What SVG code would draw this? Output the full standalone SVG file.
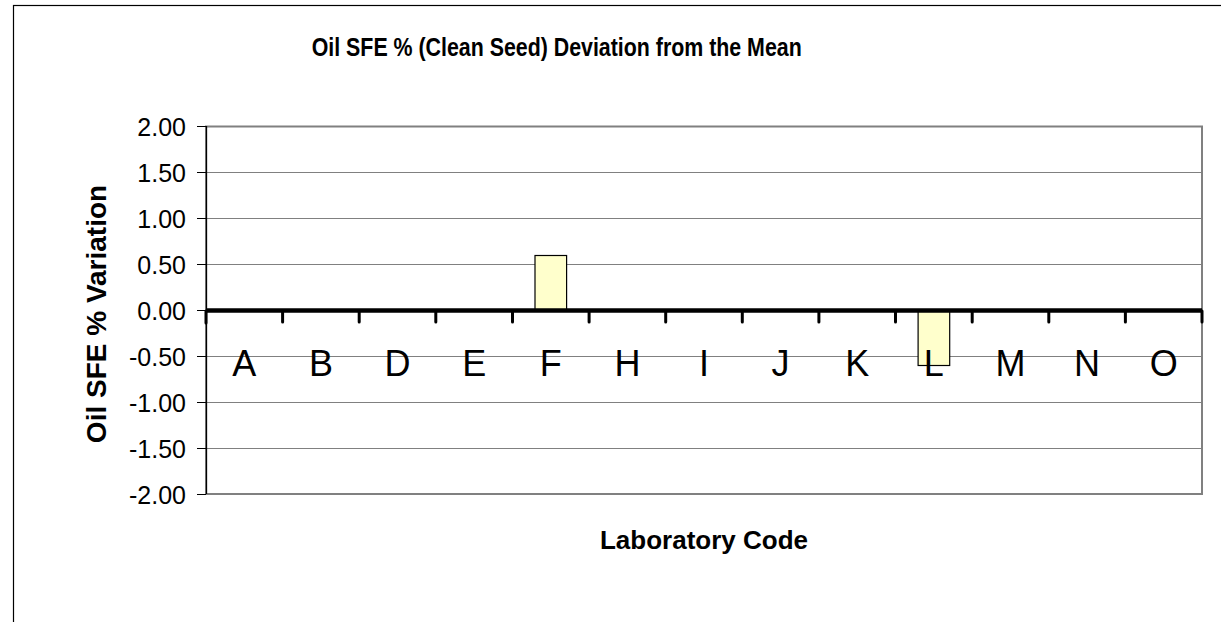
<svg xmlns="http://www.w3.org/2000/svg" width="1221" height="622" viewBox="0 0 1221 622">
<style>
.grid{stroke:#808080;stroke-width:1;fill:none}
.plot{stroke:#808080;stroke-width:2;fill:none}
.ytick{stroke:#000;stroke-width:1}
.yl{font-family:"Liberation Sans",Arial,sans-serif;font-size:25px;text-anchor:end;fill:#000}
.cl{font-family:"Liberation Sans",Arial,sans-serif;font-size:36px;text-anchor:middle;fill:#000}
.ttl{font-family:"Liberation Sans",Arial,sans-serif;font-weight:bold;fill:#000;text-anchor:middle}
.bar{fill:#FFFFCC;stroke:#000;stroke-width:1.2}
.xt{stroke:#000;stroke-width:3;stroke-linecap:round}
</style>
<rect width="1221" height="622" fill="#fff"/>
<rect x="13.5" y="5.5" width="1300" height="700" fill="none" stroke="#000" stroke-width="1.2"/>
<g id="title"><text class="ttl" x="556.7" y="56" font-size="25" textLength="490" lengthAdjust="spacingAndGlyphs">Oil SFE % (Clean Seed) Deviation from the Mean</text></g>
<g id="gridlines">
<line class="grid" x1="206" y1="172.5" x2="1202" y2="172.5"/>
<line class="grid" x1="206" y1="218.5" x2="1202" y2="218.5"/>
<line class="grid" x1="206" y1="264.5" x2="1202" y2="264.5"/>
<line class="grid" x1="206" y1="356.5" x2="1202" y2="356.5"/>
<line class="grid" x1="206" y1="402.5" x2="1202" y2="402.5"/>
<line class="grid" x1="206" y1="448.5" x2="1202" y2="448.5"/>
</g>
<g id="plot-area"><rect class="plot" x="206" y="126.5" width="996" height="367.5"/></g>
<g id="bars">
<rect id="bar-F" class="bar" x="535" y="255.5" width="31.6" height="55"/>
<rect id="bar-L" class="bar" x="918.1" y="310.5" width="31.6" height="55"/>
</g>
<g id="y-axis">
<line x1="206.5" y1="126" x2="206.5" y2="494" stroke="#000" stroke-width="1.3"/>
<line class="ytick" x1="197" y1="126.5" x2="206" y2="126.5"/>
<line class="ytick" x1="197" y1="172.5" x2="206" y2="172.5"/>
<line class="ytick" x1="197" y1="218.5" x2="206" y2="218.5"/>
<line class="ytick" x1="197" y1="264.5" x2="206" y2="264.5"/>
<line class="ytick" x1="197" y1="310.5" x2="206" y2="310.5"/>
<line class="ytick" x1="197" y1="356.5" x2="206" y2="356.5"/>
<line class="ytick" x1="197" y1="402.5" x2="206" y2="402.5"/>
<line class="ytick" x1="197" y1="448.5" x2="206" y2="448.5"/>
<line class="ytick" x1="197" y1="494.5" x2="206" y2="494.5"/>
<text class="yl" x="186" y="135.5">2.00</text>
<text class="yl" x="186" y="181.5">1.50</text>
<text class="yl" x="186" y="227.5">1.00</text>
<text class="yl" x="186" y="273.5">0.50</text>
<text class="yl" x="186" y="319.5">0.00</text>
<text class="yl" x="186" y="365.5">-0.50</text>
<text class="yl" x="186" y="411.5">-1.00</text>
<text class="yl" x="186" y="457.5">-1.50</text>
<text class="yl" x="186" y="503.5">-2.00</text>
</g>
<g id="x-axis">
<line x1="206" y1="310.5" x2="1202" y2="310.5" stroke="#000" stroke-width="4.3"/>
<line class="xt" x1="206" y1="311" x2="206" y2="323"/>
<line class="xt" x1="282.6" y1="311" x2="282.6" y2="322"/>
<line class="xt" x1="359.2" y1="311" x2="359.2" y2="322"/>
<line class="xt" x1="435.8" y1="311" x2="435.8" y2="322"/>
<line class="xt" x1="512.5" y1="311" x2="512.5" y2="322"/>
<line class="xt" x1="589.1" y1="311" x2="589.1" y2="322"/>
<line class="xt" x1="665.7" y1="311" x2="665.7" y2="322"/>
<line class="xt" x1="742.3" y1="311" x2="742.3" y2="322"/>
<line class="xt" x1="818.9" y1="311" x2="818.9" y2="322"/>
<line class="xt" x1="895.5" y1="311" x2="895.5" y2="322"/>
<line class="xt" x1="972.2" y1="311" x2="972.2" y2="322"/>
<line class="xt" x1="1048.8" y1="311" x2="1048.8" y2="322"/>
<line class="xt" x1="1125.4" y1="311" x2="1125.4" y2="322"/>
<line class="xt" x1="1202" y1="311" x2="1202" y2="322"/>
</g>
<g id="category-labels">
<text class="cl" x="244.3" y="376">A</text>
<text class="cl" x="320.9" y="376">B</text>
<text class="cl" x="397.5" y="376">D</text>
<text class="cl" x="474.2" y="376">E</text>
<text class="cl" x="550.8" y="376">F</text>
<text class="cl" x="627.4" y="376">H</text>
<text class="cl" x="704" y="376">I</text>
<text class="cl" x="780.6" y="376">J</text>
<text class="cl" x="857.2" y="376">K</text>
<text class="cl" x="933.8" y="376">L</text>
<text class="cl" x="1010.5" y="376">M</text>
<text class="cl" x="1087.1" y="376">N</text>
<text class="cl" x="1163.7" y="376">O</text>
</g>
<g id="axis-titles">
<text class="ttl" x="704" y="549" font-size="26">Laboratory Code</text>
<text class="ttl" font-size="28" transform="translate(106,314) rotate(-90)">Oil SFE % Variation</text>
</g>
</svg>
